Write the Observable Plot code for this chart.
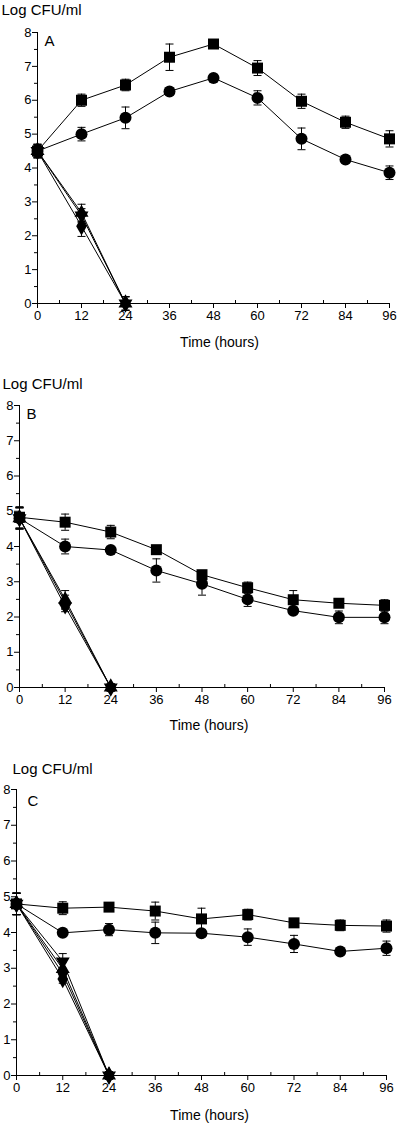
<!DOCTYPE html>
<html>
<head>
<meta charset="utf-8">
<script src="https://cdn.jsdelivr.net/npm/d3@7"></script>
<script src="https://cdn.jsdelivr.net/npm/@observablehq/plot@0.6"></script>
<style>
  html, body { margin: 0; padding: 0; background: #fff; }
  #chart { width: 400px; height: 1126px; overflow: hidden; }
  #chart svg { display: block; }
</style>
</head>
<body>
<div id="chart"></div>
<script>
// ---- tick labels / categories ----
const hours = [0, 12, 24, 36, 48, 60, 72, 84, 96];
const hoursShort = [0, 12, 24];
const xTicks = [0, 12, 24, 36, 48, 60, 72, 84, 96];
const xMinorTicks = [6, 18, 30, 42, 54, 66, 78, 90];
const yTicks = [0, 1, 2, 3, 4, 5, 6, 7, 8];
const yMinorTicks = [0.5, 1.5, 2.5, 3.5, 4.5, 5.5, 6.5, 7.5];
const yLabel = "Log CFU/ml";
const xLabel = "Time (hours)";

// ---- Panel A ----
const aSquare = [4.5, 6.0, 6.45, 7.27, 7.66, 6.95, 5.97, 5.35, 4.86];
const aSquareErr = [0.17, 0.18, 0.17, 0.39, 0.08, 0.22, 0.21, 0.18, 0.24];
const aCircle = [4.5, 5.0, 5.48, 6.26, 6.66, 6.07, 4.86, 4.25, 3.86];
const aCircleErr = [0.17, 0.2, 0.32, 0.1, 0.1, 0.21, 0.32, 0.05, 0.2];
const aTriUp = [4.5, 2.68, 0];
const aTriUpErr = [0.2, 0.25, 0.2];
const aTriDown = [4.5, 2.6, 0];
const aTriDownErr = [0.2, 0.2, 0.2];
const aDiamond = [4.5, 2.28, 0];
const aDiamondErr = [0.2, 0.3, 0.2];

// ---- Panel B ----
const bSquare = [4.83, 4.69, 4.41, 3.91, 3.2, 2.83, 2.49, 2.39, 2.33];
const bSquareErr = [0.3, 0.23, 0.19, 0.08, 0.1, 0.16, 0.26, 0.08, 0.16];
const bCircle = [4.8, 4.0, 3.9, 3.32, 2.94, 2.5, 2.18, 1.99, 1.99];
const bCircleErr = [0.3, 0.21, 0.08, 0.33, 0.32, 0.2, 0.08, 0.18, 0.18];
const bTriUp = [4.8, 2.5, 0];
const bTriUpErr = [0.3, 0.25, 0.1];
const bTriDown = [4.8, 2.3, 0];
const bTriDownErr = [0.3, 0.15, 0.1];
const bDiamond = [4.8, 2.42, 0];
const bDiamondErr = [0.3, 0.2, 0.1];

// ---- Panel C ----
const cSquare = [4.8, 4.68, 4.71, 4.6, 4.38, 4.5, 4.27, 4.2, 4.18];
const cSquareErr = [0.3, 0.18, 0.08, 0.25, 0.3, 0.15, 0.08, 0.15, 0.17];
const cCircle = [4.8, 3.99, 4.08, 3.99, 3.98, 3.87, 3.68, 3.47, 3.56];
const cCircleErr = [0.3, 0.1, 0.17, 0.3, 0.08, 0.23, 0.24, 0.05, 0.2];
const cTriDown = [4.8, 3.19, 0];
const cTriDownErr = [0.3, 0.22, 0.1];
const cTriUp = [4.8, 2.98, 0];
const cTriUpErr = [0.3, 0.2, 0.1];
const cDiamond2 = [4.8, 2.85, 0];
const cDiamond2Err = [0.3, 0.15, 0.1];
const cDiamond = [4.8, 2.7, 0];
const cDiamondErr = [0.3, 0.12, 0.1];

// ---- helpers ----
function rows(xs, ys, es) {
  return ys.map((y, i) => ({x: xs[i], y, lo: y - es[i], hi: y + es[i]}));
}
const triangleDown = {
  draw(ctx, size) {
    const y = -Math.sqrt(size / (Math.sqrt(3) * 3));
    ctx.moveTo(0, -2 * y);
    ctx.lineTo(-Math.sqrt(3) * y, y);
    ctx.lineTo(Math.sqrt(3) * y, y);
    ctx.closePath();
  }
};
const capSymbol = {
  draw(ctx, size) {
    const w = Math.sqrt(size / Math.PI);
    ctx.moveTo(-w, 0);
    ctx.lineTo(w, 0);
  }
};

function panel(p) {
  const marks = [
    Plot.ruleY([0], {stroke: "black", strokeWidth: 1}),
    Plot.ruleX([0], {stroke: "black", strokeWidth: 1}),
    Plot.axisX(xTicks, {tickSize: 5, tickPadding: 2, label: null}),
    Plot.axisX(xMinorTicks, {tickSize: 3, dy: -3, tickFormat: () => "", label: null}),
    Plot.axisY(yTicks, {tickSize: 5, tickPadding: 1, label: null}),
    Plot.axisY(yMinorTicks, {tickSize: 3, tickFormat: () => "", label: null}),
    Plot.text([yLabel], {frameAnchor: "top-left", text: d => d, textAnchor: "start", lineAnchor: "bottom", dx: p.ylDx, dy: p.ylDy, fontSize: 15, fill: "black"}),
    Plot.text([xLabel], {frameAnchor: "bottom", text: d => d, lineAnchor: "bottom", dx: p.xlDx, dy: p.xlDy, fontSize: 14, fill: "black"}),
    Plot.text([p.letter], {frameAnchor: "top-left", text: d => d, textAnchor: "start", lineAnchor: "top", dx: p.letDx, dy: p.letDy, fontSize: 15, fill: "black"})
  ];
  for (const s of p.series) {
    marks.push(Plot.line(s.data, {x: "x", y: "y", stroke: "black", strokeWidth: 1}));
  }
  for (const s of p.series) {
    marks.push(Plot.ruleX(s.data, {x: "x", y1: "lo", y2: "hi", stroke: "black", strokeWidth: 1}));
    marks.push(Plot.dot(s.data, {x: "x", y: "lo", symbol: capSymbol, r: 4, stroke: "black", strokeWidth: 1, fill: "none"}));
    marks.push(Plot.dot(s.data, {x: "x", y: "hi", symbol: capSymbol, r: 4, stroke: "black", strokeWidth: 1, fill: "none"}));
  }
  for (const s of p.series) {
    marks.push(Plot.dot(s.data, {x: "x", y: "y", symbol: s.symbol, r: s.r, fill: "black", stroke: "none"}));
  }
  return Plot.plot({
    width: 400,
    height: p.height,
    marginTop: p.mt,
    marginBottom: p.mb,
    marginLeft: p.ml,
    marginRight: p.mr,
    x: {domain: [0, 96]},
    y: {domain: [0, 8]},
    style: {fontFamily: "'Liberation Sans', Arial, sans-serif", fontSize: "13px", color: "black", background: "white", overflow: "visible"},
    marks
  });
}

const panels = [
  {
    letter: "A", height: 365, mt: 32, mb: 62, ml: 37, mr: 11,
    ylDx: -36, ylDy: -18, xlDx: 6, xlDy: 43, letDx: 7, letDy: 3,
    series: [
      {data: rows(hours, aSquare, aSquareErr), symbol: "square", r: 6.2},
      {data: rows(hours, aCircle, aCircleErr), symbol: "circle", r: 6},
      {data: rows(hoursShort, aTriUp, aTriUpErr), symbol: "triangle", r: 5.2},
      {data: rows(hoursShort, aTriDown, aTriDownErr), symbol: triangleDown, r: 5.2},
      {data: rows(hoursShort, aDiamond, aDiamondErr), symbol: "diamond", r: 5.6}
    ]
  },
  {
    letter: "B", height: 387, mt: 40, mb: 65, ml: 19, mr: 16,
    ylDx: -17, ylDy: -17, xlDx: 7, xlDy: 42, letDx: 7, letDy: 3,
    series: [
      {data: rows(hours, bSquare, bSquareErr), symbol: "square", r: 6.2},
      {data: rows(hours, bCircle, bCircleErr), symbol: "circle", r: 6},
      {data: rows(hoursShort, bTriUp, bTriUpErr), symbol: "triangle", r: 5.2},
      {data: rows(hoursShort, bTriDown, bTriDownErr), symbol: triangleDown, r: 5.2},
      {data: rows(hoursShort, bDiamond, bDiamondErr), symbol: "diamond", r: 5.6}
    ]
  },
  {
    letter: "C", height: 374, mt: 37, mb: 51, ml: 16, mr: 14,
    ylDx: -4, ylDy: -16, xlDx: 8, xlDy: 44, letDx: 11, letDy: 6,
    series: [
      {data: rows(hours, cSquare, cSquareErr), symbol: "square", r: 6.2},
      {data: rows(hours, cCircle, cCircleErr), symbol: "circle", r: 6},
      {data: rows(hoursShort, cTriDown, cTriDownErr), symbol: triangleDown, r: 5.2},
      {data: rows(hoursShort, cTriUp, cTriUpErr), symbol: "triangle", r: 5.2},
      {data: rows(hoursShort, cDiamond2, cDiamond2Err), symbol: "diamond", r: 5.4},
      {data: rows(hoursShort, cDiamond, cDiamondErr), symbol: "diamond", r: 5.6}
    ]
  }
];

const host = document.getElementById("chart");
for (const p of panels) host.appendChild(panel(p));
</script>
</body>
</html>
